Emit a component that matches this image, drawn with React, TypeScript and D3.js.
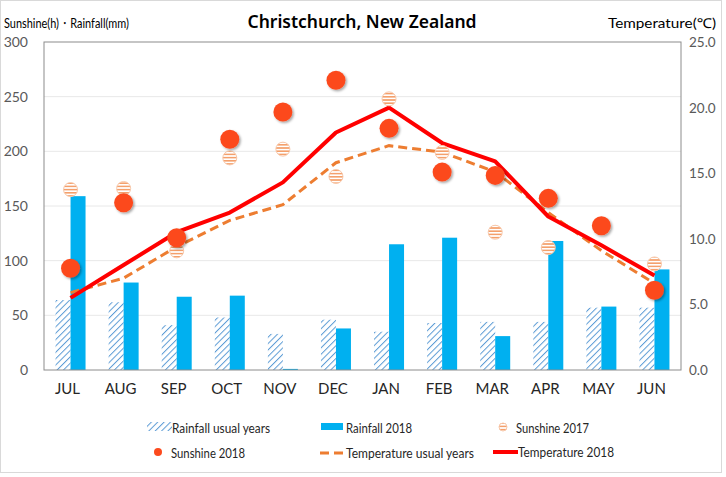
import { line, scaleBand, scaleLinear } from "d3";

const months = ["JUL", "AUG", "SEP", "OCT", "NOV", "DEC", "JAN", "FEB", "MAR", "APR", "MAY", "JUN"];
const rainUsual = [64, 62, 41, 48, 33, 46, 35, 43, 44, 44, 57, 57];
const rain2018 = [159, 80, 67, 68, 1, 38, 115, 121, 31, 118, 58, 92];
const sun2017 = [165, 166, 109, 194, 202, 177, 248, 199, 126, 112, 131, 97];
const sun2018 = [93, 153, 121, 211, 236, 265, 221, 181, 178, 157, 132, 73];
const tempUsual = [5.9, 7.0, 9.4, 11.4, 12.6, 15.8, 17.1, 16.6, 15.1, 12.0, 9.1, 6.6];
const temp2018 = [5.5, 8.0, 10.5, 12.0, 14.3, 18.1, 20.0, 17.3, 15.9, 11.7, 9.5, 7.2];
const leftTicks = [0, 50, 100, 150, 200, 250, 300];
const rightTicks = [0, 5, 10, 15, 20, 25];

const W = 726;
const H = 477;
const plot = { left: 44, right: 681, top: 42, bottom: 370 };
const font = "Lato, 'Noto Sans', sans-serif";

const blue = "#00B0F0";
const hatchBlue = "#5B9BD5";
const sunRed = "#FC4A1E";
const stripe = "#F4A06C";
const tempRed = "#FF0000";
const tempOrange = "#ED7D31";

// legend text spots: [x, baseline y, width]
const legendText: [string, number, number, number][] = [
  ["Rainfall usual years", 172, 433, 98],
  ["Rainfall 2018", 346, 433, 66],
  ["Sunshine 2017", 516, 433, 73],
  ["Sunshine 2018", 171, 458, 74],
  ["Temperature usual years", 346, 458, 128],
  ["Temperature 2018", 518, 457, 96]
];

export default function App() {
  const x = scaleBand<string>().domain(months).range([plot.left, plot.right]);
  const inner = scaleBand<string>().domain(["usual", "2018"]).range([0, 30]);
  const offset = (x.bandwidth() - 30) / 2;
  const yL = scaleLinear().domain([0, 300]).range([plot.bottom, plot.top]);
  const yR = scaleLinear().domain([0, 25]).range([plot.bottom, plot.top]);
  const cx = (m: string) => (x(m) ?? 0) + x.bandwidth() / 2;

  const tempLine = line<number>()
    .x((_, i) => cx(months[i]))
    .y((d) => yR(d));

  return (
    <svg width={W} height={H} style={{ position: "absolute", left: 0, top: 0, fontFamily: font }}>
      <defs>
        <pattern id="hatch" width="4.5" height="4.5" patternUnits="userSpaceOnUse" patternTransform="rotate(45)">
          <rect width="4.5" height="4.5" fill="#fff" />
          <line x1="0" y1="0" x2="0" y2="4.5" stroke={hatchBlue} strokeWidth="2" />
        </pattern>
        <pattern id="stripes" width="4" height="3.2" patternUnits="userSpaceOnUse">
          <rect width="4" height="3.2" fill="#fff" />
          <rect y="0" width="4" height="1.6" fill={stripe} />
        </pattern>
        <filter id="shadow" x="-50%" y="-50%" width="200%" height="200%">
          <feDropShadow dx="1.5" dy="1.5" stdDeviation="1.2" floodColor="#000" floodOpacity="0.35" />
        </filter>
      </defs>
      <rect x={0.5} y={0.5} width={W - 5} height={H - 5} fill="#fff" stroke="#d9d9d9" />

      {leftTicks.slice(1, -1).map((t) => (
        <line key={t} x1={plot.left} x2={plot.right} y1={yL(t)} y2={yL(t)} stroke="#e8e8e8" strokeWidth={1} />
      ))}

      {months.map((m, i) => (
        <g key={m}>
          <rect
            x={(x(m) ?? 0) + offset + (inner("usual") ?? 0)}
            y={yL(rainUsual[i])}
            width={inner.bandwidth()}
            height={plot.bottom - yL(rainUsual[i])}
            fill="url(#hatch)"
          />
          <rect
            x={(x(m) ?? 0) + offset + (inner("2018") ?? 0)}
            y={yL(rain2018[i])}
            width={inner.bandwidth()}
            height={plot.bottom - yL(rain2018[i])}
            fill={blue}
          />
        </g>
      ))}

      <rect
        x={plot.left}
        y={plot.top}
        width={plot.right - plot.left}
        height={plot.bottom - plot.top}
        fill="none"
        stroke="#8c8c8c"
        strokeWidth={1}
      />

      <path d={tempLine(tempUsual) ?? ""} fill="none" stroke={tempOrange} strokeWidth={3} strokeDasharray="9 5" />
      <path d={tempLine(temp2018) ?? ""} fill="none" stroke={tempRed} strokeWidth={4} strokeLinejoin="round" />

      {months.map((m, i) => (
        <circle key={m} cx={cx(m)} cy={yL(sun2017[i])} r={7} fill="url(#stripes)" stroke="#f8c8aa" strokeWidth={1} />
      ))}
      {months.map((m, i) => (
        <circle key={m} cx={cx(m)} cy={yL(sun2018[i])} r={9.5} fill={sunRed} filter="url(#shadow)" />
      ))}

      {leftTicks.map((t) => (
        <text key={t} x={28} y={yL(t) + 5} textAnchor="end" fontSize={14} fill="#595959">
          {t}
        </text>
      ))}
      {rightTicks.map((t) => (
        <text key={t} x={689} y={yR(t) + 5} fontSize={13.5} fill="#595959">
          {t.toFixed(1)}
        </text>
      ))}
      {months.map((m) => (
        <text key={m} x={cx(m) - 3} y={394} textAnchor="middle" fontSize={15} fill="#262626">
          {m}
        </text>
      ))}

      <text x={362} y={28} textAnchor="middle" fontSize={17.5} fontWeight={600} fill="#000" fontFamily="'Noto Sans', sans-serif">
        Christchurch, New Zealand
      </text>
      <text x={4} y={28} fontSize={13.5} fill="#000" textLength={125} lengthAdjust="spacingAndGlyphs">
        Sunshine(h)・Rainfall(mm)
      </text>
      <text x={608} y={28} fontSize={13.5} fill="#000" textLength={108} lengthAdjust="spacingAndGlyphs">
        Temperature(℃)
      </text>

      <g fontSize={13} fill="#262626">
        <rect x={147} y={422} width={25} height={9} fill="url(#hatch)" />
        <rect x={321} y={423} width={22} height={7} fill={blue} />
        <circle cx={503} cy={427} r={4} fill="url(#stripes)" stroke="#f8c8aa" />
        <circle cx={158} cy={452} r={4} fill={sunRed} />
        <line x1={320} x2={343} y1={453} y2={453} stroke={tempOrange} strokeWidth={3} strokeDasharray="9 5" />
        <line x1={493} x2={518} y1={452} y2={452} stroke={tempRed} strokeWidth={4} />
        {legendText.map(([label, lx, ly, w]) => (
          <text key={label} x={lx} y={ly} textLength={w} lengthAdjust="spacingAndGlyphs">
            {label}
          </text>
        ))}
      </g>
    </svg>
  );
}
